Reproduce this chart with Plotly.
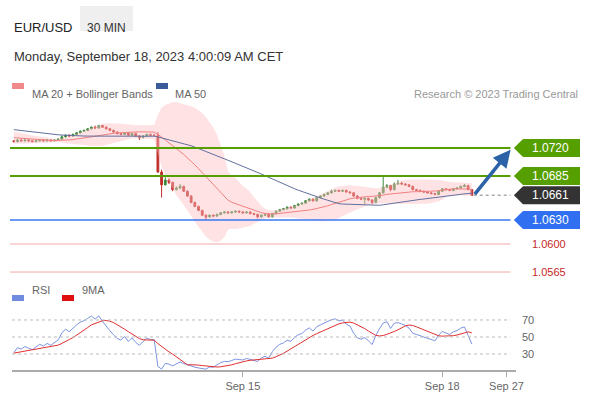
import plotly.graph_objects as go
import pandas as pd
import numpy as np

pre_close = [1.0762,1.0760,1.0761,1.0758,1.0757,1.0759,1.0756,1.0755,1.0757,1.0754,
             1.0752,1.0753,1.0751,1.0750,1.0752,1.0749,1.0748,1.0750,1.0747,1.0746,
             1.0748,1.0745,1.0744,1.0746,1.0743,1.0742,1.0744,1.0741,1.0740,1.0742,
             1.0739,1.0738,1.0740,1.0737,1.0736,1.0738,1.0735,1.0734,1.0736,1.0733,
             1.0732,1.0734,1.0731,1.0730,1.0729,1.0730,1.0728,1.0729,1.0730,1.0729]
close = [1.0728,1.0730,1.0729,1.0730,1.0729,1.0728,1.0729,1.0730,1.0729,1.0730,
         1.0729,1.0730,1.0731,1.0734,1.0736,1.0735,1.0737,1.0739,1.0741,1.0742,
         1.0744,1.0746,1.0745,1.0748,1.0746,1.0744,1.0742,1.0740,1.0738,1.0737,
         1.0739,1.0736,1.0738,1.0735,1.0733,1.0735,1.0737,1.0736,1.0736,1.0690,
         1.0674,1.0680,1.0677,1.0668,1.0670,1.0672,1.0666,1.0660,1.0652,1.0647,
         1.0642,1.0636,1.0634,1.0636,1.0635,1.0637,1.0639,1.0640,1.0639,1.0640,
         1.0641,1.0640,1.0639,1.0640,1.0638,1.0637,1.0634,1.0636,1.0637,1.0634,
         1.0638,1.0641,1.0643,1.0644,1.0646,1.0645,1.0648,1.0650,1.0651,1.0654,
         1.0656,1.0654,1.0658,1.0660,1.0662,1.0664,1.0666,1.0667,1.0666,1.0667,
         1.0665,1.0664,1.0660,1.0657,1.0656,1.0657,1.0655,1.0652,1.0658,1.0664,
         1.0671,1.0673,1.0668,1.0675,1.0676,1.0675,1.0674,1.0672,1.0668,1.0667,
         1.0666,1.0665,1.0664,1.0663,1.0662,1.0666,1.0669,1.0668,1.0667,1.0669,
         1.0670,1.0672,1.0673,1.0668,1.0661]
wick_up = [1,1,1,1,1,1,1,1,1,1, 1,1,1,2,1,1,1,1,1,1, 1,1,2,1,1,1,1,1,1,1,
           1,1,1,1,1,1,1,1,1,4, 3,6,2,1,2,3,1,1,1,1, 1,1,1,1,1,1,1,1,1,1,
           1,1,1,1,1,1,1,1,1,1, 1,1,1,1,1,1,1,1,1,1, 1,1,1,1,1,1,2,1,1,1,
           1,1,1,1,1,1,1,1,1,1, 15,2,1,2,4,2,1,1,1,1, 1,1,1,1,1,1,1,1,1,1,
           1,1,2,1,1]
wick_dn = [1,1,1,1,1,1,1,1,1,1, 1,1,1,1,1,1,1,1,1,1, 1,1,1,1,1,1,1,1,1,1,
           1,1,1,1,3,1,1,1,1,1, 16,1,2,2,1,1,1,1,1,1, 1,1,4,1,1,1,1,1,1,1,
           1,1,1,1,1,1,2,1,1,1, 1,1,1,1,1,1,1,1,1,1, 1,1,1,1,1,1,1,1,1,1,
           1,1,1,1,1,6,1,2,1,1, 1,1,2,1,1,1,1,1,1,1, 1,1,1,1,1,1,1,1,1,1,
           1,1,1,1,1]
levels = [1.0720, 1.0685, 1.0630, 1.0600, 1.0565]
level_colors = ["#55a000", "#55a000", "#3a78f0", "#f2a9a9", "#f2a9a9"]
last_price = 1.0661
date_ticks = [62, 116, 133.4]
date_labels = ["Sep 15", "Sep 18", "Sep 27"]

N = len(close)
x = list(range(N))
allc = pd.Series(pre_close + close)
opens = [pre_close[-1]] + close[:-1]
highs = [max(o, c) + u * 0.0001 for o, c, u in zip(opens, close, wick_up)]
lows = [min(o, c) - d * 0.0001 for o, c, d in zip(opens, close, wick_dn)]
P = len(pre_close)
ma20 = allc.rolling(20).mean()
sd20 = allc.rolling(20).std()
ma50 = allc.rolling(50).mean()
up = (ma20 + 2 * sd20).iloc[P:].values
lo = (ma20 - 2 * sd20).iloc[P:].values
d = allc.diff()
g = d.clip(lower=0).ewm(alpha=1/14, adjust=False).mean()
l = (-d.clip(upper=0)).ewm(alpha=1/14, adjust=False).mean()
rsi = (100 - 100 / (1 + g / l))
rsi9 = rsi.rolling(9).mean()

fig = go.Figure()
fig.add_trace(go.Scatter(x=x, y=up, mode="lines", line=dict(width=0), hoverinfo="skip", showlegend=False))
fig.add_trace(go.Scatter(x=x, y=lo, mode="lines", line=dict(width=0), fill="tonexty",
                         fillcolor="rgba(255,190,195,0.45)", hoverinfo="skip", showlegend=False))
fig.add_trace(go.Scatter(x=x, y=ma20.iloc[P:].values, mode="lines", line=dict(color="#f08080", width=1), showlegend=False))
fig.add_trace(go.Scatter(x=x, y=ma50.iloc[P:].values, mode="lines", line=dict(color="#6070a0", width=1), showlegend=False))
fig.add_trace(go.Candlestick(x=x, open=opens, high=highs, low=lows, close=close,
                             increasing=dict(line=dict(color="#3d8a3d", width=1), fillcolor="#3d8a3d"),
                             decreasing=dict(line=dict(color="#c0302a", width=1), fillcolor="#c0302a"),
                             whiskerwidth=0, showlegend=False))
fig.add_trace(go.Scatter(x=x, y=rsi.iloc[P:].values, mode="lines", line=dict(color="#7b93e0", width=1),
                         xaxis="x2", yaxis="y2", showlegend=False))
fig.add_trace(go.Scatter(x=x, y=rsi9.iloc[P:].values, mode="lines", line=dict(color="#e03030", width=1),
                         xaxis="x2", yaxis="y2", showlegend=False))

xr = [-0.5, 136]
dom = [0.0035, 0.888]
fig.update_layout(
    width=590, height=400, margin=dict(l=10, r=10, t=0, b=0),
    paper_bgcolor="white", plot_bgcolor="rgba(0,0,0,0)",
    font=dict(family="Liberation Sans, Arial", color="#555"),
    xaxis=dict(domain=dom, range=xr, visible=False, rangeslider=dict(visible=False)),
    yaxis=dict(domain=[0.2875, 0.75], range=[1.05488, 1.0780], visible=False),
    xaxis2=dict(domain=dom, range=xr, anchor="y2", showline=True, linecolor="#aaa", linewidth=2,
                ticks="outside", tickcolor="#aaa", ticklen=5, tickvals=date_ticks, ticktext=date_labels,
                showgrid=False, zeroline=False, tickfont=dict(size=11, color="#666")),
    yaxis2=dict(domain=[0.075, 0.2375], range=[11.2, 87.6], visible=False),
)
for lv, c in zip(levels, level_colors):
    w = 2 if c == "#55a000" else (1.5 if c == "#3a78f0" else 1)
    fig.add_shape(type="line", xref="paper", yref="y", x0=0, x1=0.878, y0=lv, y1=lv, line=dict(color=c, width=w))
fig.add_shape(type="line", xref="x", yref="y", x0=124.5, x1=134.5, y0=last_price, y1=last_price,
              line=dict(color="#aaa", width=1.5, dash="dot"))
h = 0.00112
for lv, c, txt in [(1.0720, "#55a000", "1.0720"), (1.0685, "#55a000", "1.0685"),
                   (last_price, "#333333", "1.0661"), (1.0630, "#2f6ff0", "1.0630")]:
    x0, xp, x1 = 0.9, 0.884, 1.0
    fig.add_shape(type="path", xref="paper", yref="y",
                  path=f"M {xp} {lv} L {x0} {lv+h} L {x1} {lv+h} L {x1} {lv-h} L {x0} {lv-h} Z",
                  fillcolor=c, line=dict(width=0))
    fig.add_annotation(xref="paper", yref="y", x=0.912, y=lv, text=txt, showarrow=False, xanchor="left",
                       font=dict(color="white", size=12))
for lv, txt in [(1.0600, "1.0600"), (1.0565, "1.0565")]:
    fig.add_annotation(xref="paper", yref="y", x=0.912, y=lv, text=txt, showarrow=False, xanchor="left",
                       font=dict(color="#c62828", size=11))
fig.add_annotation(x=134.5, y=1.0718, xref="x", yref="y", ax=-37, ay=46, text="", showarrow=True,
                   arrowhead=2, arrowsize=1, arrowwidth=3.5, arrowcolor="#2c63a8")
for v in [30, 50, 70]:
    fig.add_shape(type="line", xref="paper", yref="y2", x0=0.0035, x1=0.878, y0=v, y1=v,
                  line=dict(color="#bbb", width=1, dash="dot"))
    fig.add_annotation(xref="paper", yref="y2", x=0.895, y=v, text=str(v), showarrow=False, xanchor="left",
                       font=dict(size=11, color="#666"))
fig.add_annotation(xref="paper", yref="paper", x=0.004, y=1 - 18/400, text="EUR/USD", showarrow=False,
                   xanchor="left", font=dict(size=13, color="#222"))
fig.add_shape(type="rect", xref="paper", yref="paper", x0=(80-10)/570, x1=(133-10)/570,
              y0=1 - 31/400, y1=1 - 6/400, fillcolor="#efefef", line=dict(width=0))
fig.add_annotation(xref="paper", yref="paper", x=(106-10)/570, y=1 - 18.5/400, text="30 MIN", showarrow=False,
                   xanchor="center", font=dict(size=12, color="#333"))
fig.add_annotation(xref="paper", yref="paper", x=0.004, y=1 - 47/400, text="Monday, September 18, 2023 4:00:09 AM CET",
                   showarrow=False, xanchor="left", font=dict(size=13, color="#333"))
fig.add_shape(type="rect", xref="paper", yref="paper", x0=2/570, x1=14/570, y0=1-89/400, y1=1-83/400,
              fillcolor="#f08a8a", line=dict(width=0))
fig.add_annotation(xref="paper", yref="paper", x=20/570, y=1-86/400, text="MA 20 + Bollinger Bands",
                   showarrow=False, xanchor="left", font=dict(size=11, color="#666"))
fig.add_shape(type="rect", xref="paper", yref="paper", x0=146/570, x1=158/570, y0=1-89/400, y1=1-83/400,
              fillcolor="#3b5c9a", line=dict(width=0))
fig.add_annotation(xref="paper", yref="paper", x=163/570, y=1-86/400, text="MA 50",
                   showarrow=False, xanchor="left", font=dict(size=11, color="#666"))
fig.add_annotation(xref="paper", yref="paper", x=1.0, y=1-86/400, text="Research © 2023 Trading Central",
                   showarrow=False, xanchor="right", font=dict(size=11, color="#999"))
fig.add_shape(type="rect", xref="paper", yref="paper", x0=2/570, x1=14/570, y0=1-301/400, y1=1-295/400,
              fillcolor="#6f8ce0", line=dict(width=0))
fig.add_annotation(xref="paper", yref="paper", x=20/570, y=1-298/400, text="RSI",
                   showarrow=False, xanchor="left", font=dict(size=11, color="#666"))
fig.add_shape(type="rect", xref="paper", yref="paper", x0=52/570, x1=64/570, y0=1-301/400, y1=1-295/400,
              fillcolor="#e01010", line=dict(width=0))
fig.add_annotation(xref="paper", yref="paper", x=70/570, y=1-298/400, text="9MA",
                   showarrow=False, xanchor="left", font=dict(size=11, color="#666"))
fig.write_html("out.html", config={"displayModeBar": False},
               post_script="document.body.style.margin='0';")
